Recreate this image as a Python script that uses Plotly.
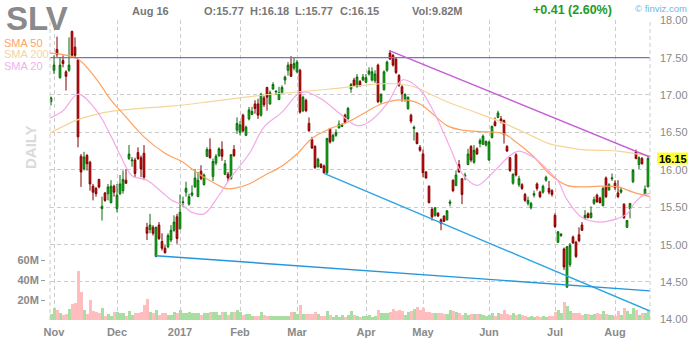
import pandas as pd
import plotly.graph_objects as go

# ---------------- data ----------------
holidays = ["2016-11-24", "2016-12-26", "2017-01-02", "2017-01-16",
            "2017-02-20", "2017-04-14", "2017-05-29", "2017-07-04"]
dates = [d for d in pd.bdate_range("2016-10-31", "2017-08-16")
         if d.strftime("%Y-%m-%d") not in holidays]

opens = [16.91, 17.33, 17.61, 17.23, 17.46, 17.31, 17.33, 17.85, 17.64, 17.47,
         16.18, 16.01, 16.19, 16.10, 15.78, 15.75, 15.87, 15.48, 15.69, 15.68,
         15.56, 15.78, 15.48, 15.68, 15.72, 15.86, 16.15, 16.12, 16.13, 16.23,
         16.16, 16.22, 15.23, 15.20, 15.23, 14.84, 15.26, 15.04, 14.95, 14.97,
         15.06, 15.19, 15.37, 15.21, 15.56, 15.70, 15.54, 15.66, 15.77, 15.64,
         15.98, 15.80, 16.18, 16.27, 15.91, 16.09, 16.19, 16.27, 15.94, 15.94,
         15.88, 16.27, 16.53, 16.50, 16.73, 16.46, 16.68, 16.74, 16.88, 16.88,
         16.73, 16.96, 17.10, 16.88, 17.08, 17.04, 16.94, 17.03, 17.20, 17.33,
         17.41, 17.36, 17.31, 17.33, 16.79, 16.93, 16.62, 16.40, 16.31, 16.04,
         16.07, 16.05, 15.96, 16.55, 16.39, 16.46, 16.56, 16.58, 16.73, 16.68,
         17.08, 17.20, 17.11, 17.18, 17.20, 17.17, 17.28, 17.20, 17.19, 17.40,
         16.91, 17.07, 17.33, 17.56, 17.53, 17.48, 17.26, 17.11, 16.94, 16.82,
         16.73, 16.55, 16.49, 16.30, 16.21, 15.97, 15.78, 15.47, 15.39, 15.42,
         15.33, 15.38, 15.33, 15.55, 15.86, 15.79, 16.07, 15.88, 15.91, 16.07,
         16.31, 16.10, 16.28, 16.35, 16.34, 16.33, 16.13, 16.43, 16.64, 16.70,
         16.68, 16.66, 16.31, 16.16, 15.82, 16.20, 15.80, 15.80, 15.67, 15.55,
         15.49, 15.66, 15.81, 15.70, 15.70, 15.86, 15.75, 15.72, 15.39, 15.03,
         15.12, 14.94, 14.43, 14.73, 15.10, 15.03, 15.13, 15.26, 15.35, 15.41,
         15.36, 15.55, 15.66, 15.62, 15.52, 15.89, 15.73, 15.88, 15.82, 15.69,
         15.70, 15.54, 15.23, 15.48, 15.84, 16.24, 16.07, 16.15, 15.67, 15.77]
highs = [16.98, 17.53, 17.78, 17.50, 17.53, 17.33, 17.77, 17.86, 17.77, 17.48,
         16.21, 16.24, 16.21, 16.12, 15.81, 15.77, 15.88, 15.64, 15.70, 15.81,
         15.86, 15.80, 15.81, 15.93, 15.99, 16.01, 16.33, 16.17, 16.16, 16.30,
         16.19, 16.33, 15.29, 15.41, 15.26, 15.24, 15.30, 15.15, 14.99, 15.15,
         15.26, 15.39, 15.41, 15.67, 15.64, 15.84, 15.68, 15.79, 16.01, 15.97,
         16.06, 15.95, 16.30, 16.42, 16.15, 16.21, 16.30, 16.38, 16.13, 15.97,
         16.21, 16.33, 16.70, 16.65, 16.75, 16.59, 16.84, 16.84, 16.93, 16.95,
         17.03, 16.99, 17.11, 17.06, 17.17, 17.06, 17.11, 17.13, 17.26, 17.44,
         17.52, 17.50, 17.47, 17.35, 16.99, 16.95, 16.70, 16.44, 16.33, 16.16,
         16.09, 16.07, 16.42, 16.56, 16.48, 16.54, 16.66, 16.62, 16.75, 16.84,
         17.16, 17.23, 17.28, 17.20, 17.28, 17.28, 17.37, 17.37, 17.33, 17.42,
         17.02, 17.33, 17.46, 17.60, 17.55, 17.50, 17.28, 17.13, 17.02, 16.98,
         16.75, 16.59, 16.50, 16.33, 16.27, 15.98, 15.79, 15.50, 15.50, 15.43,
         15.35, 15.39, 15.46, 15.60, 15.87, 15.99, 16.13, 15.89, 15.96, 16.28,
         16.33, 16.33, 16.30, 16.42, 16.47, 16.39, 16.39, 16.59, 16.70, 16.79,
         16.72, 16.67, 16.33, 16.17, 15.95, 16.22, 15.92, 15.82, 15.69, 15.64,
         15.57, 15.72, 15.83, 15.72, 15.80, 15.92, 15.85, 15.74, 15.42, 15.18,
         15.15, 14.96, 14.98, 15.02, 15.12, 15.05, 15.23, 15.30, 15.46, 15.43,
         15.51, 15.64, 15.68, 15.64, 15.77, 15.91, 15.82, 15.95, 15.86, 15.86,
         15.77, 15.55, 15.32, 15.55, 16.01, 16.27, 16.18, 16.17, 15.79, 16.18]
lows = [16.86, 17.28, 17.51, 17.22, 17.37, 17.06, 17.31, 17.51, 17.50, 16.30,
        15.77, 15.99, 15.99, 15.72, 15.59, 15.64, 15.75, 15.32, 15.57, 15.59,
        15.55, 15.64, 15.43, 15.66, 15.68, 15.81, 16.13, 16.04, 15.90, 16.13,
        15.90, 15.86, 15.06, 15.15, 15.12, 14.83, 15.06, 14.92, 14.88, 14.95,
        15.03, 15.17, 15.01, 15.20, 15.50, 15.64, 15.52, 15.64, 15.76, 15.64,
        15.86, 15.79, 16.17, 16.15, 15.85, 16.06, 16.17, 16.12, 15.93, 15.84,
        15.87, 16.17, 16.48, 16.46, 16.50, 16.45, 16.66, 16.73, 16.75, 16.68,
        16.71, 16.84, 16.79, 16.87, 17.07, 17.00, 16.93, 17.02, 17.14, 17.26,
        17.24, 17.33, 17.29, 16.75, 16.77, 16.77, 16.51, 16.28, 16.01, 16.03,
        16.02, 15.95, 15.93, 16.35, 16.37, 16.44, 16.55, 16.57, 16.61, 16.67,
        17.03, 17.11, 17.10, 17.11, 17.19, 17.16, 17.26, 17.18, 17.16, 16.89,
        16.88, 17.06, 17.31, 17.47, 17.38, 17.28, 17.11, 16.91, 16.91, 16.80,
        16.62, 16.39, 16.34, 16.24, 15.90, 15.88, 15.55, 15.32, 15.37, 15.37,
        15.19, 15.30, 15.32, 15.51, 15.70, 15.78, 15.96, 15.54, 15.86, 16.06,
        16.10, 16.08, 16.20, 16.30, 16.33, 16.31, 16.12, 16.42, 16.58, 16.69,
        16.62, 16.35, 16.24, 15.97, 15.80, 15.91, 15.77, 15.73, 15.57, 15.52,
        15.47, 15.63, 15.72, 15.62, 15.68, 15.84, 15.67, 15.64, 15.22, 15.02,
        15.10, 14.66, 14.42, 14.70, 15.01, 14.82, 15.03, 15.18, 15.33, 15.35,
        15.35, 15.53, 15.56, 15.55, 15.51, 15.62, 15.72, 15.85, 15.73, 15.62,
        15.68, 15.34, 15.22, 15.35, 15.82, 16.14, 16.01, 16.07, 15.65, 15.77]
closes = [16.96, 17.40, 17.54, 17.40, 17.42, 17.25, 17.40, 17.53, 17.53, 16.44,
          15.97, 16.17, 16.08, 15.81, 15.70, 15.68, 15.77, 15.51, 15.59, 15.77,
          15.78, 15.70, 15.66, 15.81, 15.87, 15.82, 16.21, 16.13, 15.95, 16.15,
          16.01, 15.90, 15.15, 15.26, 15.15, 15.23, 15.08, 14.95, 14.89, 15.12,
          15.19, 15.30, 15.08, 15.43, 15.57, 15.75, 15.64, 15.69, 15.89, 15.86,
          15.88, 15.93, 16.27, 16.16, 16.11, 16.18, 16.28, 16.18, 16.08, 15.89,
          16.20, 16.19, 16.62, 16.60, 16.52, 16.57, 16.80, 16.78, 16.82, 16.73,
          17.01, 16.87, 16.97, 17.03, 17.14, 17.05, 17.03, 17.10, 17.24, 17.40,
          17.25, 17.42, 17.44, 16.77, 16.97, 16.79, 16.52, 16.29, 16.03, 16.14,
          16.03, 15.96, 16.42, 16.37, 16.46, 16.50, 16.61, 16.60, 16.63, 16.82,
          17.14, 17.13, 17.24, 17.13, 17.24, 17.23, 17.32, 17.31, 17.28, 16.91,
          17.01, 17.31, 17.44, 17.48, 17.40, 17.30, 17.13, 17.02, 17.01, 16.97,
          16.65, 16.57, 16.35, 16.26, 15.96, 15.89, 15.56, 15.37, 15.49, 15.38,
          15.28, 15.31, 15.45, 15.57, 15.72, 15.93, 15.97, 15.67, 15.93, 16.21,
          16.13, 16.26, 16.21, 16.39, 16.45, 16.38, 16.37, 16.58, 16.59, 16.76,
          16.64, 16.47, 16.25, 15.99, 15.94, 15.93, 15.88, 15.75, 15.59, 15.59,
          15.55, 15.68, 15.75, 15.64, 15.78, 15.90, 15.70, 15.67, 15.24, 15.17,
          15.14, 14.70, 14.97, 14.99, 15.02, 14.84, 15.05, 15.19, 15.39, 15.36,
          15.42, 15.60, 15.57, 15.56, 15.75, 15.64, 15.80, 15.89, 15.76, 15.64,
          15.73, 15.36, 15.32, 15.55, 15.99, 16.15, 16.16, 16.08, 15.74, 16.15]
volume_m = [6, 11.7, 10, 7.3, 5, 6, 10.7, 16, 17.3, 49,
            27.7, 10, 6, 20, 9, 8.3, 6.7, 11.7, 4, 6,
            4, 8.3, 8.3, 7.3, 7.3, 4, 9, 5, 7.3, 7.3,
            8.3, 15, 21, 7.7, 6.7, 10, 5, 7.3, 7.3, 5,
            5, 8.3, 7.3, 10, 7.3, 6.7, 7.7, 7.3, 7.3, 7.3,
            5, 6.7, 6.7, 8.3, 8.3, 8.3, 5, 8.3, 8.3, 5,
            8.3, 8.3, 10, 8.3, 5, 6, 6, 4, 4, 4,
            8, 5, 4, 4, 4, 4, 4, 4, 4, 4,
            8.3, 8, 6, 15, 6, 6, 6, 6, 8.3, 6,
            4, 4, 9, 5, 2.7, 5, 3.5, 5, 2.7, 5,
            9, 5, 4, 3.3, 4, 4, 5, 2.7, 4, 10,
            6.7, 7.3, 6.7, 8.3, 10.7, 9.3, 10, 9.3, 5, 8.3,
            9.3, 10.7, 13.3, 10, 11.7, 8.3, 8.3, 6.7, 7.3, 6.7,
            6.7, 6, 6, 10, 9.3, 8.3, 6.7, 5, 6.7, 5,
            6, 6, 6, 6, 5, 4, 5, 7.3, 4, 6.7,
            6, 10, 6, 5, 7.3, 5, 6, 5, 4, 3.3,
            4, 3.3, 4, 3.3, 4, 3.3, 4, 4, 8, 10,
            7, 18, 14, 9, 7, 7, 7, 5, 6, 6,
            5, 6, 7, 6, 9, 6, 5, 5, 4, 9,
            5, 11.7, 9.3, 6, 11.7, 10, 5, 7, 7, 9.82]

sma200_pos = [-0.33, 5, 9, 14, 20, 30, 40, 53, 63, 71, 82, 93, 104, 110, 115, 121,
              126, 132, 138, 144, 150, 155, 161, 166, 172, 177, 183, 189, 194, 199.67]
sma200_val = [16.49, 16.60, 16.67, 16.73, 16.78, 16.82, 16.85, 16.91, 16.96, 17.00,
              17.04, 17.08, 17.13, 17.15, 17.15, 17.11, 17.02, 16.91, 16.82, 16.73,
              16.64, 16.55, 16.44, 16.35, 16.30, 16.27, 16.26, 16.25, 16.22, 16.19]
sma50_pos = [-0.33, 4, 9, 15, 20, 24, 31, 38, 44, 49, 55, 58, 61, 66, 71, 77, 82, 87,
             93, 99, 104, 110, 115, 119, 123, 126, 132, 137, 143, 151, 155, 161, 166,
             172, 177, 183, 189, 194, 199.67]
sma50_val = [17.56, 17.54, 17.48, 17.22, 16.93, 16.75, 16.44, 16.22, 16.10, 15.95,
             15.81, 15.75, 15.75, 15.81, 15.92, 16.05, 16.21, 16.42, 16.55, 16.64,
             16.75, 16.88, 16.93, 16.93, 16.88, 16.79, 16.59, 16.53, 16.51, 16.48,
             16.37, 16.17, 15.95, 15.79, 15.77, 15.78, 15.77, 15.70, 15.64]
sma20_pos = [-0.33, 4, 9, 15, 20, 23, 27, 32, 37, 40, 44, 47, 51, 55, 60, 66, 71, 77,
             82, 85, 90, 96, 102, 106, 112, 117, 120, 124, 129, 133, 137, 142, 147,
             153, 156, 161, 166, 169, 172, 177, 183, 189, 192, 195, 198, 199.67]
sma20_val = [16.69, 16.79, 17.01, 16.80, 16.45, 16.20, 15.92, 15.86, 15.70, 15.60,
             15.52, 15.43, 15.41, 15.60, 15.90, 16.21, 16.57, 16.77, 17.00, 17.04,
             16.95, 16.76, 16.59, 16.64, 16.88, 17.20, 17.17, 17.02, 16.66, 16.30,
             15.95, 15.79, 15.95, 16.19, 16.25, 16.16, 15.98, 15.85, 15.60, 15.36,
             15.30, 15.35, 15.41, 15.58, 15.67, 15.68]

# drawn trendlines: (position, price) pairs
hline_pos, hline_val = [-0.33, 199.67], [17.50, 17.50]
resist_pos, resist_val = [113, 199.67], [17.59, 16.17]
support1_pos, support1_val = [91, 199.67], [15.95, 14.11]
support2_pos, support2_val = [35, 199.67], [14.85, 14.38]

price_ticks = [14.0, 14.5, 15.0, 15.5, 16.0, 16.5, 17.0, 17.5, 18.0]
vol_ticks = [20, 40, 60]
vol_tick_text = ["20M", "40M", "60M"]

# ---------------- figure ----------------
W, H = 700, 340
FONT = "Liberation Sans, Arial, sans-serif"
GRID = "#cccccc"
pos = list(range(len(dates)))
month_pos = [i for i in range(1, len(dates)) if dates[i].month != dates[i - 1].month]
month_text = ["2017" if dates[i].month == 1 else dates[i].strftime("%b") for i in month_pos]


def px(x):
    return x / W


def py(y):
    return 1 - y / H


up = [c >= o for o, c in zip(opens, closes)]
vol_colors = ["#a9dea3" if u else "#ffbdbd" for u in up]

fig = go.Figure()
fig.add_trace(go.Bar(x=pos, y=volume_m, marker=dict(color=vol_colors, line=dict(width=0)),
                     width=1.0, xaxis="x", yaxis="y", hoverinfo="skip", showlegend=False))

for xs, ys, col in [(sma200_pos, sma200_val, "#f5d597"),
                    (sma50_pos, sma50_val, "#ffa15e"),
                    (sma20_pos, sma20_val, "#f4a9e7")]:
    fig.add_trace(go.Scatter(x=xs, y=ys, mode="lines", line=dict(color=col, width=1.2, shape="spline"),
                             xaxis="x", yaxis="y2", hoverinfo="skip", showlegend=False))

for xs, ys, col in [(hline_pos, hline_val, "#7474c0"),
                    (resist_pos, resist_val, "#c55bd6"),
                    (support1_pos, support1_val, "#2ea3e3"),
                    (support2_pos, support2_val, "#2596db")]:
    fig.add_trace(go.Scatter(x=xs, y=ys, mode="lines", line=dict(color=col, width=1.4),
                             xaxis="x", yaxis="y2", hoverinfo="skip", showlegend=False))

fig.add_trace(go.Candlestick(
    x=pos, open=opens, high=highs, low=lows, close=closes,
    increasing=dict(line=dict(color="#0a690a", width=1), fillcolor="#00cc00"),
    decreasing=dict(line=dict(color="#820000", width=1), fillcolor="#e00000"),
    whiskerwidth=0, xaxis="x", yaxis="y2", hoverinfo="skip", showlegend=False))

dom = [py(320), py(20)]
fig.update_layout(
    width=W, height=H, margin=dict(l=0, r=0, t=0, b=0, pad=0, autoexpand=False),
    paper_bgcolor="white", plot_bgcolor="white",
    font=dict(family=FONT, color="#888888", size=11),
    boxgap=0.2, bargap=0, hovermode=False, showlegend=False,
    xaxis=dict(domain=[px(50), px(650)], range=[-1 / 3, 199 + 2 / 3],
               tickmode="array", tickvals=month_pos, ticktext=month_text,
               showgrid=True, gridcolor=GRID, griddash="4px,3px", gridwidth=1,
               zeroline=False, showline=False, ticks="outside", ticklen=2,
               tickcolor="rgba(0,0,0,0)", automargin=False,
               tickfont=dict(size=11, color="#8a8a8a", weight="bold"),
               rangeslider=dict(visible=False), fixedrange=True),
    yaxis=dict(domain=dom, range=[0, 300], anchor="free", position=px(45), side="left",
               tickmode="array", tickvals=vol_ticks, ticktext=vol_tick_text,
               ticks="outside", ticklen=4, tickcolor="#9a9a9a", automargin=False,
               showgrid=False, zeroline=False, showline=False,
               tickfont=dict(size=11, color="#8a8a8a", weight="bold"), fixedrange=True),
    yaxis2=dict(domain=dom, range=[13.99, 18.003], overlaying="y", anchor="x", side="right",
                tickmode="array", tickvals=price_ticks, showticklabels=False,
                showgrid=True, gridcolor=GRID, griddash="4px,3px", gridwidth=1,
                ticks="", automargin=False, zeroline=False, showline=False,
                fixedrange=True),
)

# dashed frame at left/right edges of the plot
for xe in (50, 650):
    fig.add_shape(type="line", xref="paper", yref="paper", x0=px(xe), x1=px(xe),
                  y0=py(320), y1=py(20), line=dict(color=GRID, width=1, dash="4px,3px"))


def ann(text, x, y, size=11, color="#777777", bold=True, xanchor="left", yref="paper", **kw):
    fig.add_annotation(text=text, x=x, y=y, xref="paper", yref=yref, showarrow=False,
                       xanchor=xanchor, yanchor="middle",
                       font=dict(family=FONT, size=size, color=color,
                                 weight="bold" if bold else "normal"), **kw)


# price scale labels on the right
for v in price_ticks:
    ann("%.2f" % v, px(658), v, color="#8a8a8a", bold=False, yref="y2")

ann("SLV", px(4), py(18), size=33, color="#8a8a8a")
ann("Aug 16", px(150), py(11), xanchor="center")
ann("O:15.77", px(202), py(11))
ann("H:16.18", px(248), py(11))
ann("L:15.77", px(293), py(11))
ann("C:16.15", px(338), py(11))
ann("Vol:9.82M", px(410), py(11))
ann("+0.41 (2.60%)", px(531), py(10), size=12.5, color="#1e9b1e")
ann("© finviz.com", px(633), py(8), size=9.5, color="#6fb6e6", bold=False)
ann("SMA 50", px(2), py(42.5), color="#ffa366", bold=False)
ann("SMA 200", px(2), py(54.5), color="#f3d6a2", bold=False)
ann("SMA 20", px(2), py(66), color="#f2b0ea", bold=False)
ann("DAILY", px(30), py(147), size=15, color="#dadada", xanchor="center", textangle=-90)

# last-close marker on the price scale: yellow box drawn as a shape plus plain text
last = closes[-1]
fig.add_shape(type="rect", xref="paper", yref="y2", x0=px(657), x1=px(688),
              y0=last - 0.08, y1=last + 0.08, fillcolor="#ffff2e", line=dict(width=0),
              layer="above")
fig.add_annotation(text="%.2f" % last, x=px(672.5), y=last, xref="paper", yref="y2",
                   showarrow=False, xanchor="center", yanchor="middle",
                   font=dict(family=FONT, size=11, color="#000000", weight="bold"))

fig.write_html("out.html")
